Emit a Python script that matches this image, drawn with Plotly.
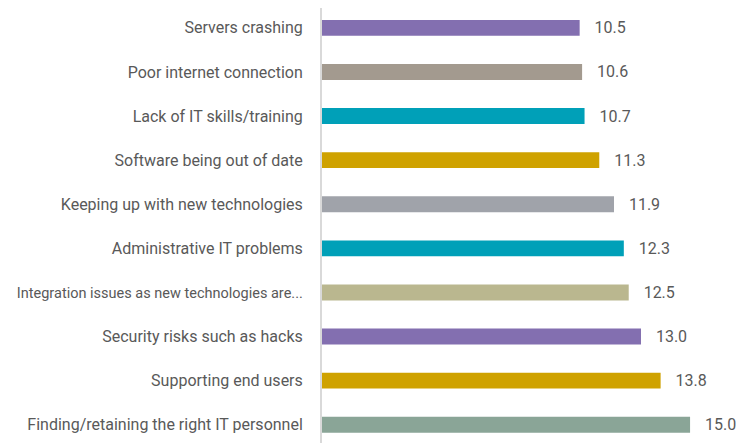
import plotly.graph_objects as go

challenges = [
    "Finding/retaining the right IT personnel",
    "Supporting end users",
    "Security risks such as hacks",
    "Integration issues as new technologies are...",
    "Administrative IT problems",
    "Keeping up with new technologies",
    "Software being out of date",
    "Lack of IT skills/training",
    "Poor internet connection",
    "Servers crashing",
]
scores = [15.0, 13.8, 13.0, 12.5, 12.3, 11.9, 11.3, 10.7, 10.6, 10.5]
bar_colors = [
    "#8AA597", "#CFA200", "#836FB0", "#BAB78F", "#00A0B8",
    "#A0A3AA", "#CFA200", "#00A0B8", "#A39A8F", "#836FB0",
]

font_family = "Roboto, sans-serif"

# the long truncated label is set a bit smaller so it fits the margin
tick_text = [
    f'<span style="font-size:14.5px">{c}</span>' if len(c) > 42 else c
    for c in challenges
]

fig = go.Figure(go.Bar(
    x=scores,
    y=challenges,
    orientation="h",
    marker=dict(color=bar_colors, line=dict(width=0)),
    text=[f"{v:.1f}" for v in scores],
    texttemplate="   %{text}",
    textposition="outside",
    constraintext="none",
    textfont=dict(family=font_family, size=16, color="#595959"),
    cliponaxis=False,
))

# page body adds ~8px offset, so the margins are trimmed to compensate
fig.update_layout(
    width=752,
    height=443,
    margin=dict(l=314, r=0, t=0, b=0),
    plot_bgcolor="white",
    paper_bgcolor="white",
    bargap=0.64,
    showlegend=False,
    font=dict(family=font_family, size=16, color="#595959"),
)
fig.update_xaxes(visible=False, range=[0, 17.85])
fig.update_yaxes(
    categoryorder="array",
    categoryarray=challenges,
    tickvals=challenges,
    ticktext=tick_text,
    range=[-0.595, 9.45],
    automargin=False,
    showgrid=False,
    showline=True,
    linecolor="#D9D9D9",
    linewidth=2,
    ticks="",
    ticklabelstandoff=14,
    tickfont=dict(family=font_family, size=16, color="#595959"),
)

fig.write_html("out.html")
